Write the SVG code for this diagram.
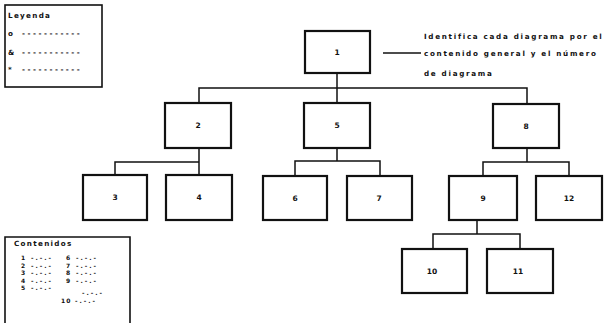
<svg xmlns="http://www.w3.org/2000/svg" width="614" height="323" viewBox="0 0 614 323">
  <style>
    .box { fill: #fff; stroke: #111; stroke-width: 2.2; }
    .frame { fill: none; stroke: #111; stroke-width: 1.6; }
    .wire { fill: none; stroke: #111; stroke-width: 1.5; }
    .t { font-family: "DejaVu Sans", "Liberation Sans", sans-serif; font-weight: bold; font-size: 7.2px; fill: #111; letter-spacing: 1.3px; }
    .note { letter-spacing: 1.7px; }
    .d { letter-spacing: 2.5px; }
    .s { font-size: 6px; letter-spacing: 1px; }
    .c { font-size: 6px; letter-spacing: 2px; }
    .n { font-family: "DejaVu Sans", "Liberation Sans", sans-serif; font-weight: bold; font-size: 7.5px; fill: #111; text-anchor: middle; }
  </style>
  <rect width="614" height="323" fill="#fff"/>

  <!-- legend -->
  <g id="leyenda">
    <rect class="frame" x="5" y="5" width="97" height="82"/>
    <text class="t" x="8" y="18">Leyenda</text>
    <text class="t" x="8" y="36">o</text><text class="t d" x="22" y="36">-----------</text>
    <text class="t" x="8" y="55">&amp;</text><text class="t d" x="22" y="55">-----------</text>
    <text class="t" x="8" y="72">*</text><text class="t d" x="22" y="72">-----------</text>
  </g>

  <!-- table of contents -->
  <g id="contenidos">
    <path class="frame" d="M5,325 V237 H130 V325"/>
    <text class="t" x="14" y="246">Contenidos</text>
    <text class="t s" x="21" y="260">1</text><text class="t c" x="31" y="260">-.-.-</text>
    <text class="t s" x="21" y="267.5">2</text><text class="t c" x="31" y="267.5">-.-.-</text>
    <text class="t s" x="21" y="275">3</text><text class="t c" x="31" y="275">-.-.-</text>
    <text class="t s" x="21" y="282.5">4</text><text class="t c" x="31" y="282.5">-.-.-</text>
    <text class="t s" x="21" y="290">5</text><text class="t c" x="31" y="290">-.-.-</text>
    <text class="t s" x="66" y="260">6</text><text class="t c" x="76" y="260">-.-.-</text>
    <text class="t s" x="66" y="267.5">7</text><text class="t c" x="76" y="267.5">-.-.-</text>
    <text class="t s" x="66" y="275">8</text><text class="t c" x="76" y="275">-.-.-</text>
    <text class="t s" x="66" y="282.5">9</text><text class="t c" x="76" y="282.5">-.-.-</text>
    <text class="t c" x="82" y="295">-.-.-</text>
    <text class="t s" x="61" y="302.5">10</text><text class="t c" x="75" y="302.5">-.-.-</text>
  </g>

  <!-- note attached to diagram 1 -->
  <g id="nota">
    <line class="wire" x1="383" y1="53" x2="421" y2="53"/>
    <text class="t note" x="424" y="39">Identifica cada diagrama por el</text>
    <text class="t note" x="424" y="56">contenido general y el número</text>
    <text class="t note" x="424" y="76">de diagrama</text>
  </g>

  <!-- connectors -->
  <g id="connectors">
    <path class="wire" d="M337,73 V88 M199,103 V88 H527 V104 M337,88 V103"/>
    <path class="wire" d="M199,148 V175 M115,175 V162 H199"/>
    <path class="wire" d="M337,148 V161 M295,176 V161 H380 V176"/>
    <path class="wire" d="M527,148 V162 M483,176 V162 H569 V176"/>
    <path class="wire" d="M477,220 V234 M433,249 V234 H520 V249"/>
  </g>

  <!-- nodes -->
  <g id="n1"><rect class="box" x="305" y="31" width="65" height="42"/><text class="n" x="337" y="55">1</text></g>
  <g id="n2"><rect class="box" x="165" y="103" width="66" height="45"/><text class="n" x="198" y="128">2</text></g>
  <g id="n5"><rect class="box" x="304" y="103" width="66" height="45"/><text class="n" x="337" y="128">5</text></g>
  <g id="n8"><rect class="box" x="493" y="104" width="66" height="44"/><text class="n" x="526" y="129">8</text></g>
  <g id="n3"><rect class="box" x="83" y="175" width="64" height="45"/><text class="n" x="115" y="200">3</text></g>
  <g id="n4"><rect class="box" x="166" y="175" width="66" height="45"/><text class="n" x="199" y="200">4</text></g>
  <g id="n6"><rect class="box" x="263" y="176" width="64" height="44"/><text class="n" x="295" y="201">6</text></g>
  <g id="n7"><rect class="box" x="347" y="176" width="65" height="44"/><text class="n" x="379" y="201">7</text></g>
  <g id="n9"><rect class="box" x="449" y="176" width="68" height="44"/><text class="n" x="483" y="201">9</text></g>
  <g id="n12"><rect class="box" x="536" y="176" width="66" height="44"/><text class="n" x="569" y="201">12</text></g>
  <g id="n10"><rect class="box" x="402" y="249" width="65" height="44"/><text class="n" x="432" y="274">10</text></g>
  <g id="n11"><rect class="box" x="487" y="249" width="66" height="44"/><text class="n" x="518" y="274">11</text></g>
</svg>
